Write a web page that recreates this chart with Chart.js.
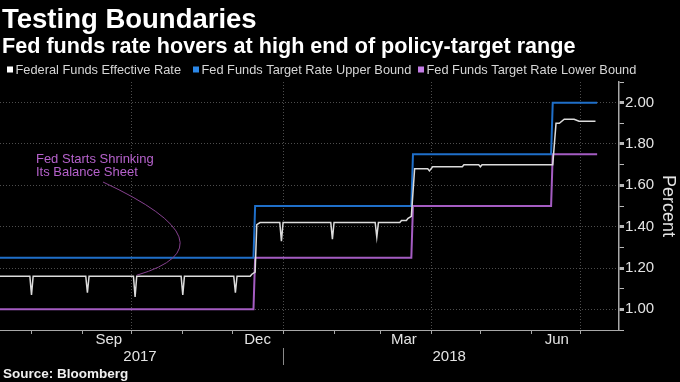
<!DOCTYPE html>
<html>
<head>
<meta charset="utf-8">
<script src="https://cdn.jsdelivr.net/npm/chart.js@4.4.1/dist/chart.umd.min.js"></script>
<style>
  html, body { margin: 0; padding: 0; background: #000; }
</style>
</head>
<body>
<canvas id="chart" width="680" height="382"></canvas>
<script>
// x values are days counted from 1 Jul 2017 (= day 0)
const effDays = [10, 30, 31, 32, 64, 65, 66, 93, 94, 95, 122, 123, 124, 154, 155, 156,
  164, 165, 167, 168, 170, 182, 183, 184, 213, 214, 215, 240, 241, 242,
  255, 256, 259, 260, 262, 264, 272, 273, 275, 293, 294, 303, 304, 305,
  348, 350, 352, 355, 361, 364, 374];
const effRates = [1.16, 1.16, 1.07, 1.16, 1.16, 1.08, 1.16, 1.16, 1.06, 1.16, 1.16, 1.07, 1.16, 1.16, 1.08, 1.16,
  1.16, 1.17, 1.18, 1.41, 1.42, 1.42, 1.33, 1.42, 1.42, 1.34, 1.42, 1.42, 1.35, 1.42,
  1.42, 1.43, 1.43, 1.44, 1.45, 1.68, 1.68, 1.67, 1.69, 1.69, 1.70, 1.70, 1.69, 1.70,
  1.70, 1.90, 1.90, 1.92, 1.92, 1.91, 1.91];

const targetDays = [10, 166, 167, 262, 263, 347, 348, 375];
const upperBound = [1.25, 1.25, 1.50, 1.50, 1.75, 1.75, 2.00, 2.00];
const lowerBound = [1.00, 1.00, 1.25, 1.25, 1.50, 1.50, 1.75, 1.75];

const monthStartDays = [31, 62, 92, 123, 153, 184, 215, 243, 274, 304, 335, 365];
const quarterDays = [92, 184, 274, 365];
const monthLabels = ['Sep', 'Dec', 'Mar', 'Jun'];
const monthLabelDays = [78, 168.5, 257.5, 350.5];
const yearLabels = ['2017', '2018'];
const yearLabelDays = [97, 285];
const yearBreakDay = 184;

const seriesNames = ['Federal Funds Effective Rate', 'Fed Funds Target Rate Upper Bound', 'Fed Funds Target Rate Lower Bound'];
const seriesColors = ['#dcdcdc', '#1f6fc9', '#a45cc2'];
const legendColors = ['#ffffff', '#2b87e8', '#c47de6'];

const FONT = "'Liberation Sans', Arial, sans-serif";
Chart.defaults.font.family = FONT;

function toPoints(xs, ys) {
  return xs.map((x, i) => ({ x: x, y: ys[i] }));
}
function isMajor(v) {
  return Math.round(v * 10) % 2 === 0;
}
function xLabel(v) {
  const m = monthLabelDays.indexOf(v);
  if (m >= 0) return monthLabels[m];
  const y = yearLabelDays.indexOf(v);
  if (y >= 0) return ['', yearLabels[y]];
  return '';
}

const decor = {
  id: 'decor',
  afterDraw(chart) {
    const ctx = chart.ctx;
    const xs = chart.scales.x, ys = chart.scales.y;
    ctx.save();
    ctx.textAlign = 'left';

    ctx.fillStyle = '#ffffff';
    ctx.textBaseline = 'alphabetic';
    ctx.font = 'bold 27.5px ' + FONT;
    ctx.fillText('Testing Boundaries', 2, 28);
    ctx.font = 'bold 21.6px ' + FONT;
    ctx.fillText('Fed funds rate hovers at high end of policy-target range', 2, 53);

    // legend
    const legendX = [7, 193, 418];
    ctx.font = '12.8px ' + FONT;
    ctx.textBaseline = 'middle';
    seriesNames.forEach((name, i) => {
      ctx.fillStyle = legendColors[i];
      ctx.fillRect(legendX[i], 66.5, 6, 6);
      ctx.fillStyle = '#d6d6d6';
      ctx.fillText(name, legendX[i] + 8.5, 70);
    });

    // source
    ctx.fillStyle = '#f0f0f0';
    ctx.font = 'bold 13.5px ' + FONT;
    ctx.fillText('Source: Bloomberg', 3, 374);

    // year separator under the axis
    const bx = Math.round(xs.getPixelForValue(yearBreakDay)) + 0.5;
    ctx.strokeStyle = '#8a8a8a';
    ctx.lineWidth = 1;
    ctx.beginPath();
    ctx.moveTo(bx, 348);
    ctx.lineTo(bx, 365);
    ctx.stroke();

    // annotation
    ctx.fillStyle = '#b561cb';
    ctx.font = '13px ' + FONT;
    ctx.fillText('Fed Starts Shrinking', xs.getPixelForValue(33.7), ys.getPixelForValue(1.727));
    ctx.fillText('Its Balance Sheet', xs.getPixelForValue(33.7), ys.getPixelForValue(1.661));
    ctx.strokeStyle = '#86418f';
    ctx.lineWidth = 1;
    ctx.beginPath();
    ctx.moveTo(xs.getPixelForValue(74.5), ys.getPixelForValue(1.616));
    ctx.quadraticCurveTo(xs.getPixelForValue(156.6), ys.getPixelForValue(1.311),
      xs.getPixelForValue(95), ys.getPixelForValue(1.165));
    ctx.stroke();
    ctx.restore();
  }
};

new Chart(document.getElementById('chart'), {
  type: 'line',
  data: {
    datasets: [
      { label: seriesNames[0], data: toPoints(effDays, effRates), borderColor: seriesColors[0], borderWidth: 1.5, order: 0 },
      { label: seriesNames[1], data: toPoints(targetDays, upperBound), borderColor: seriesColors[1], borderWidth: 2, order: 1 },
      { label: seriesNames[2], data: toPoints(targetDays, lowerBound), borderColor: seriesColors[2], borderWidth: 2, order: 2 }
    ]
  },
  options: {
    responsive: false,
    animation: false,
    devicePixelRatio: 1,
    layout: { padding: { top: 82, left: 0, right: 0, bottom: 0 } },
    elements: { point: { radius: 0 }, line: { tension: 0, fill: false } },
    plugins: { legend: { display: false }, tooltip: { enabled: false } },
    scales: {
      x: {
        type: 'linear',
        min: 11.84,
        max: 388.3,
        afterBuildTicks: s => {
          s.ticks = monthStartDays.concat(monthLabelDays, yearLabelDays)
            .sort((a, b) => a - b)
            .map(v => ({ value: v }));
        },
        afterFit: s => { s.height = 52; },
        ticks: {
          autoSkip: false, maxRotation: 0, minRotation: 0, padding: -2,
          color: '#e4e4e4', font: { size: 15, lineHeight: 1.1 },
          callback: v => xLabel(v)
        },
        grid: {
          color: c => (c.tick && quarterDays.includes(c.tick.value)) ? '#4d4d4d' : 'transparent',
          tickColor: c => (c.tick && monthStartDays.includes(c.tick.value)) ? '#a8a8a8' : 'transparent',
          tickLength: 4,
          lineWidth: 1
        },
        border: { color: '#a8a8a8', width: 1, dash: [1, 2] }
      },
      y: {
        position: 'right',
        min: 0.9,
        max: 2.1,
        afterFit: s => { s.width = 61; },
        ticks: {
          autoSkip: false, stepSize: 0.1, padding: 1, color: '#e4e4e4', font: { size: 15 },
          callback: v => isMajor(v) ? v.toFixed(2) : ''
        },
        grid: {
          color: c => (c.tick && isMajor(c.tick.value)) ? '#4d4d4d' : 'transparent',
          tickColor: '#b8b8b8',
          tickLength: 5,
          tickWidth: c => (c.tick && isMajor(c.tick.value)) ? 3 : 1
        },
        border: { color: '#a8a8a8', width: 1.5, dash: [1, 2] },
        title: {
          display: true, text: 'Percent', color: '#e4e4e4',
          font: { size: 18 }, padding: { top: 1, bottom: 0 }
        }
      }
    }
  },
  plugins: [decor]
});
</script>
</body>
</html>
